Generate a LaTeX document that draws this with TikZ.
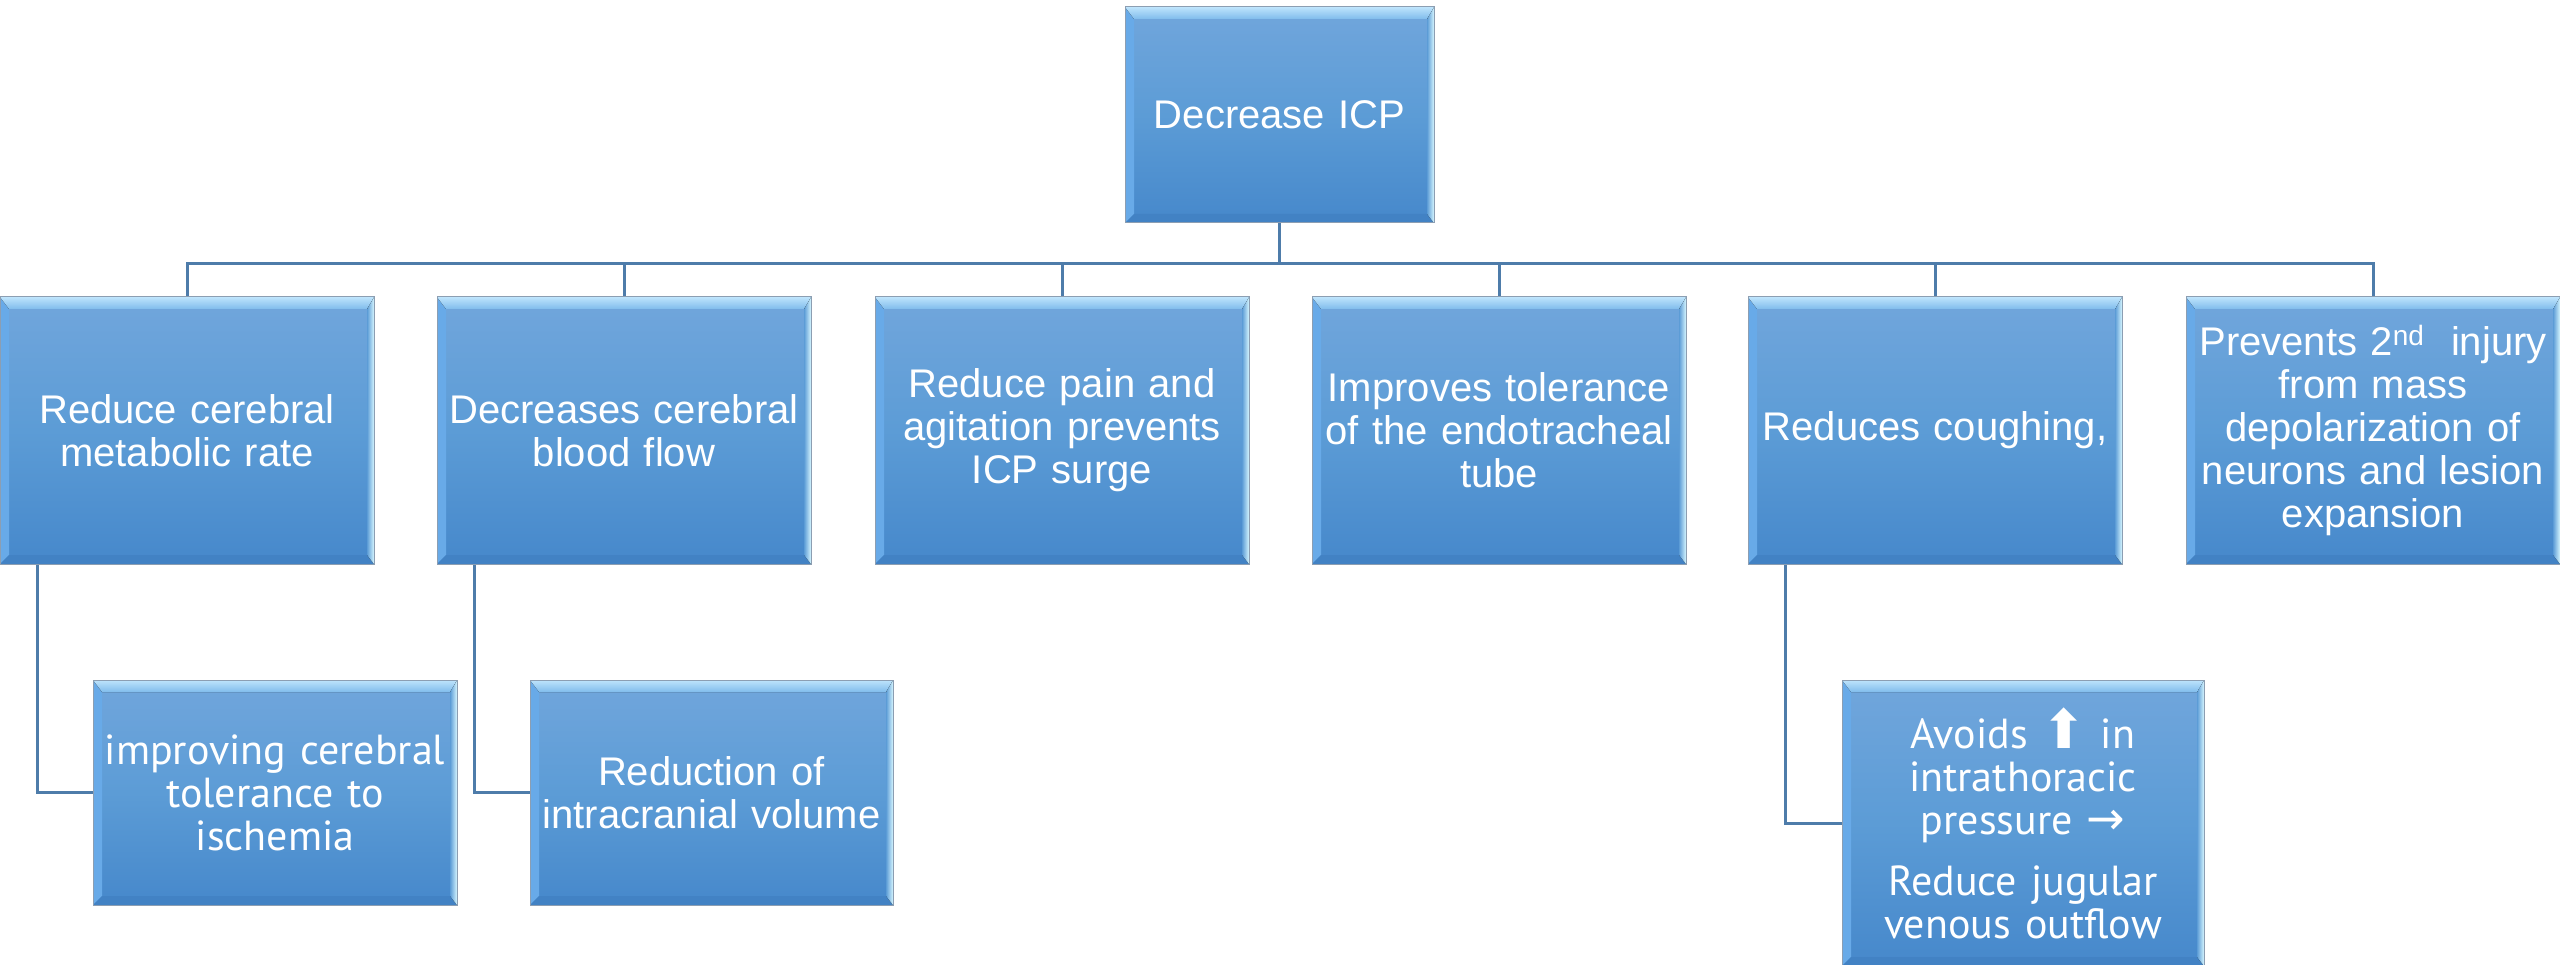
\documentclass[tikz,border=0pt]{standalone}
\usepackage{fontspec}
\setmainfont{Liberation Sans}
\newfontfamily\frank{PT Sans}
\newfontfamily\dejavu{DejaVu Sans}
\usetikzlibrary{backgrounds}
\definecolor{boxtop}{RGB}{113,166,220}
\definecolor{boxmid}{RGB}{92,156,214}
\definecolor{boxbot}{RGB}{70,136,203}
\definecolor{bevtopA}{RGB}{190,228,252}
\definecolor{bevtopB}{RGB}{128,188,236}
\definecolor{bevright}{RGB}{214,246,255}
\definecolor{bevleft}{RGB}{104,170,232}
\definecolor{bevbot}{RGB}{66,130,196}
\definecolor{edgecol}{RGB}{140,158,178}
\definecolor{conncol}{RGB}{78,124,170}
\tikzset{
  box/.style={anchor=north west, inner sep=0pt, outer sep=0pt, text=white, align=center,
    top color=boxtop, bottom color=boxbot, middle color=boxmid,
    draw=edgecol, line width=1pt,
    font=\fontsize{40}{43}\selectfont,
    path picture={
      \coordinate (@nw) at (path picture bounding box.north west);
      \coordinate (@ne) at (path picture bounding box.north east);
      \coordinate (@sw) at (path picture bounding box.south west);
      \coordinate (@se) at (path picture bounding box.south east);
      \fill[bevleft] (@nw) -- ([xshift=9pt,yshift=-12pt]@nw) -- ([xshift=9pt,yshift=9pt]@sw) -- (@sw) -- cycle;
      \fill[bevbot] (@sw) -- ([xshift=9pt,yshift=9pt]@sw) -- ([xshift=-7pt,yshift=9pt]@se) -- (@se) -- cycle;
      \fill[left color=boxmid, right color=bevright] (@ne) -- (@se) -- ([xshift=-7pt,yshift=9pt]@se) -- ([xshift=-7pt,yshift=-12pt]@ne) -- cycle;
      \fill[top color=bevtopA, bottom color=bevtopB] (@nw) -- (@ne) -- ([xshift=-7pt,yshift=-12pt]@ne) -- ([xshift=9pt,yshift=-12pt]@nw) -- cycle;
    }},
  fbox/.style={box, font=\fontsize{42}{43}\selectfont\frank},
  conn/.style={draw=conncol, line width=3pt},
}
\begin{document}
\begin{tikzpicture}[x=1pt, y=-1pt]
\useasboundingbox (0,0) rectangle (2560,965);
\node[box, minimum width=309pt, minimum height=216pt, text width=295pt] (top) at (1125,7) {Decrease ICP};
\node[box, minimum width=374pt, minimum height=267pt, text width=360pt] (l1) at (0,297) {Reduce cerebral\\metabolic rate};
\node[box, minimum width=374pt, minimum height=267pt, text width=360pt] (l2) at (437,297) {Decreases cerebral\\blood flow};
\node[box, minimum width=374pt, minimum height=267pt, text width=360pt] (l3) at (875,297) {Reduce pain and\\agitation prevents\\ICP surge};
\node[box, minimum width=374pt, minimum height=267pt, text width=360pt] (l4) at (1312,297) {Improves tolerance\\of the endotracheal\\tube};
\node[box, minimum width=374pt, minimum height=267pt, text width=360pt] (l5) at (1748,297) {Reduces coughing,};
\node[box, minimum width=374pt, minimum height=267pt, text width=360pt] (l6) at (2186,297) {Prevents 2\textsuperscript{nd}\ \ injury\\from mass\\depolarization of\\neurons and lesion\\expansion};
\node[fbox, minimum width=364pt, minimum height=225pt, text width=355pt] (c1) at (93,680) {improving cerebral\\tolerance to\\ischemia};
\node[box, minimum width=363pt, minimum height=225pt, text width=360pt] (c2) at (530,680) {Reduction of\\intracranial volume};
\node[fbox, minimum width=362pt, minimum height=286pt, text width=350pt] (c3) at (1842,680) {Avoids {\dejavu\fontsize{54}{43}\selectfont ⬆} in\\intrathoracic\\pressure {\dejavu\fontsize{46}{43}\selectfont →}\\[18pt]Reduce jugular\\venous outflow};
\begin{scope}[on background layer]
\coordinate (bus) at (0,264);
\foreach \k in {l1,l2,l3,l4,l5,l6}{
  \draw[conn] (top.south) -- (top.south |- bus) -| (\k.north);
}
\draw[conn] ([xshift=37pt]l1.south west) |- (c1.west);
\draw[conn] ([xshift=37pt]l2.south west) |- (c2.west);
\draw[conn] ([xshift=37pt]l5.south west) |- (c3.west);
\end{scope}
\end{tikzpicture}
\end{document}
